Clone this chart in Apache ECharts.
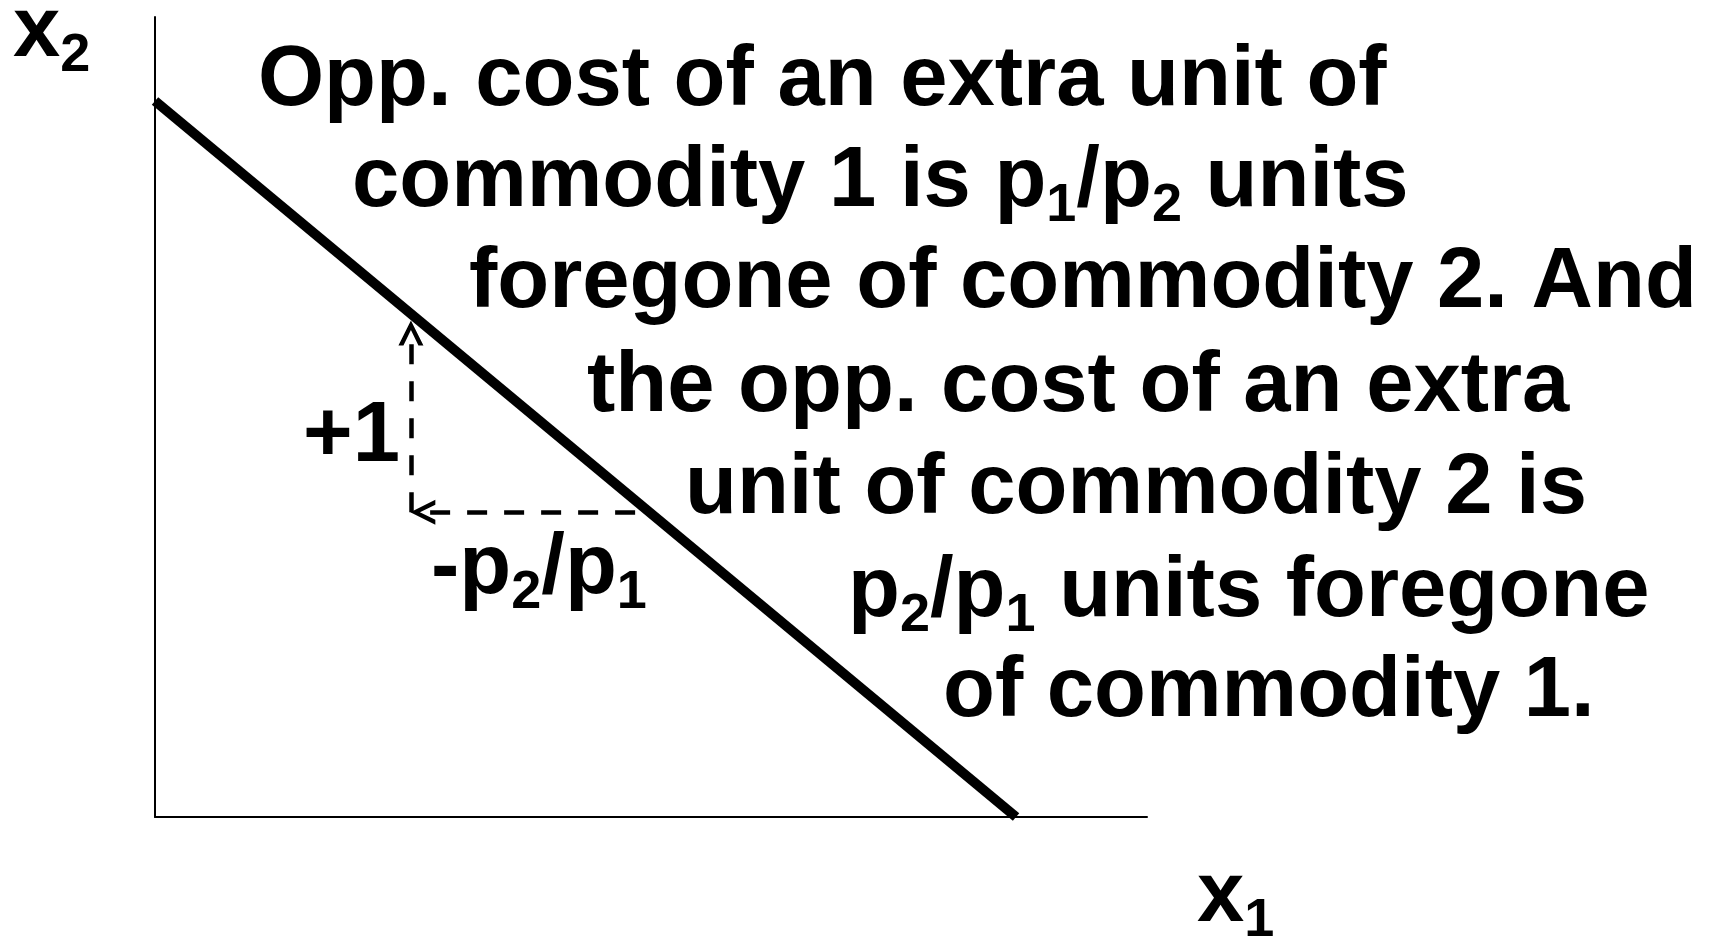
<!DOCTYPE html>
<html>
<head>
<meta charset="utf-8">
<script src="https://cdn.jsdelivr.net/npm/echarts@6/dist/echarts.min.js"></script>
<style>
  html, body { margin: 0; padding: 0; background: #fff; }
  #main { width: 1709px; height: 940px; }
</style>
</head>
<body>
<div id="main"></div>
<script>
// budget line end points (x1, x2)
var budgetLine = [[0, 8.95], [8.68, 0]];
// dashed arrows: rise +1 and run -p2/p1
var riseArrow = [[2.58, 3.81], [2.58, 6.05]];
var runArrow = [[4.84, 3.81], [2.70, 3.81]];

// text block, one entry per line
var noteLines = [
    '{n|Opp. cost of an extra unit of}',
    '{n|commodity 1 is p}{s|1}{n|/p}{s|2}{n| units}',
    '{n|foregone of commodity 2. And}',
    '{n|the opp. cost of an extra}',
    '{n|unit of commodity 2 is}',
    '{n|p}{s|2}{n|/p}{s|1}{n| units foregone}',
    '{n|of commodity 1.}'
];
var noteLeft = [258, 352, 469, 587, 685, 848, 943];
var noteBase = [104, 205, 306, 410, 512, 615, 715];

var myChart = echarts.init(document.getElementById('main'));

var FONT = 'Liberation Sans, Arial, sans-serif';
var rich = {
    n: { fontSize: 85, fontWeight: 'bold', fontFamily: FONT, lineHeight: 100, fill: '#000' },
    s: { fontSize: 54, fontWeight: 'bold', fontFamily: FONT, lineHeight: 14, verticalAlign: 'bottom', fill: '#000' }
};

function richText(text, left, base) {
    return {
        type: 'text',
        x: left,
        y: base - 72,
        style: {
            text: text,
            rich: rich,
            align: 'left',
            verticalAlign: 'top',
            fill: '#000',
            font: 'bold 85px ' + FONT
        }
    };
}

var graphics = [];
for (var i = 0; i < noteLines.length; i++) {
    graphics.push(richText(noteLines[i], noteLeft[i], noteBase[i]));
}
graphics.push(richText('{n|x}{s|2}', 13, 55));
graphics.push(richText('{n|x}{s|1}', 1197, 920));
graphics.push(richText('{n|+1}', 303, 460));
graphics.push(richText('{n|-p}{s|2}{n|/p}{s|1}', 431, 592));

var chevron = 'path://M0,12 L5,0 L10,12 L8,12 L5,4.6 L2,12 Z';

option = {
    backgroundColor: '#fff',
    animation: false,
    grid: { left: 155, right: 562, top: 17, bottom: 123 },
    xAxis: {
        type: 'value', min: 0, max: 10,
        axisLine: { show: true, onZero: false, lineStyle: { color: '#000', width: 2 } },
        axisTick: { show: false }, axisLabel: { show: false }, splitLine: { show: false }
    },
    yAxis: {
        type: 'value', min: 0, max: 10,
        axisLine: { show: true, onZero: false, lineStyle: { color: '#000', width: 2 } },
        axisTick: { show: false }, axisLabel: { show: false }, splitLine: { show: false }
    },
    series: [
        {
            type: 'line',
            data: budgetLine,
            symbol: 'none',
            lineStyle: { color: '#000', width: 10 }
        },
        {
            type: 'lines',
            coordinateSystem: 'cartesian2d',
            symbol: ['none', chevron],
            symbolSize: [16, 25],
            lineStyle: { color: '#000', width: 4.5, type: [20, 17], opacity: 1 },
            data: [
                { coords: riseArrow },
                { coords: runArrow }
            ]
        }
    ],
    graphic: graphics
};

myChart.setOption(option);
</script>
</body>
</html>
